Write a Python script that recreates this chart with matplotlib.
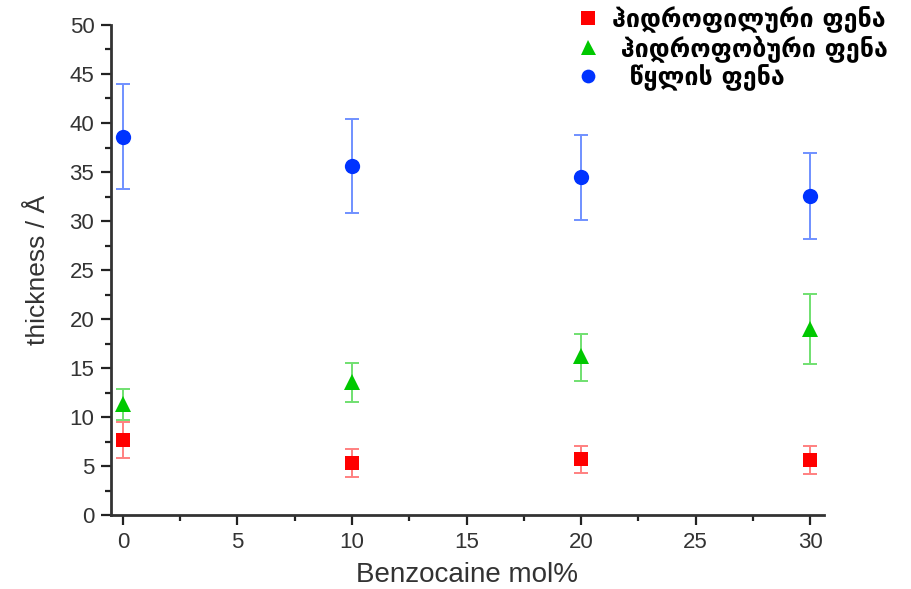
import matplotlib
matplotlib.use("Agg")
import matplotlib.pyplot as plt
from matplotlib.lines import Line2D
from matplotlib.ticker import MultipleLocator

x = [0, 10, 20, 30]

hydrophilic = [7.65, 5.3, 5.7, 5.6]
hydrophilic_lo = [1.85, 1.4, 1.4, 1.4]
hydrophilic_hi = [1.85, 1.4, 1.3, 1.4]

hydrophobic = [11.3, 13.6, 16.2, 19.0]
hydrophobic_lo = [1.6, 2.1, 2.5, 3.6]
hydrophobic_hi = [1.6, 1.9, 2.3, 3.6]

water = [38.6, 35.6, 34.5, 32.6]
water_lo = [5.3, 4.8, 4.4, 4.4]
water_hi = [5.4, 4.8, 4.3, 4.3]

labels = ["ჰიდროფილური ფენა", " ჰიდროფობური ფენა", "  წყლის ფენა"]
xlabel = "Benzocaine mol%"
ylabel = "thickness / Å"

plt.rcParams['font.family'] = ['Liberation Sans', 'DejaVu Sans']

fig = plt.figure(figsize=(9.11, 5.89), dpi=100)
ax = fig.add_axes([111/911, 74/589, (824-111)/911, (515-25)/589])

series = [
    (hydrophilic, hydrophilic_lo, hydrophilic_hi, 's', '#FF0000', '#FF8080', 10.5),
    (hydrophobic, hydrophobic_lo, hydrophobic_hi, '^', '#00C800', '#70E070', 12),
    (water, water_lo, water_hi, 'o', '#0033FF', '#7090FF', 11),
]
handles = []
for vals, lo, hi, m, c, ec, ms in series:
    ax.errorbar(x, vals, yerr=[lo, hi], fmt='none', ecolor=ec, elinewidth=1.4,
                capsize=5, capthick=1.4, zorder=2)
    ax.plot(x, vals, linestyle='none', marker=m, color=c, markersize=ms,
            markeredgewidth=0, zorder=3)
    handles.append(Line2D([], [], linestyle='none', marker=m, color=c,
                          markersize=ms * 0.9, markeredgewidth=0))

ax.set_xlim(-0.52, 30.6)
ax.set_ylim(0, 50)
ax.xaxis.set_major_locator(MultipleLocator(5))
ax.xaxis.set_minor_locator(MultipleLocator(2.5))
ax.yaxis.set_major_locator(MultipleLocator(5))
ax.yaxis.set_minor_locator(MultipleLocator(2.5))

for s in ['top', 'right']:
    ax.spines[s].set_visible(False)
for s in ['left', 'bottom']:
    ax.spines[s].set_linewidth(2)
    ax.spines[s].set_color('#333333')

ax.tick_params(which='major', direction='out', length=7, width=1.6,
               labelsize=16, color='#222222', labelcolor='#333333', pad=5)
ax.tick_params(which='minor', direction='out', length=4, width=1.6, color='#222222')

ax.set_xlabel(xlabel, fontsize=20, color='#333333', labelpad=7)
ax.set_ylabel(ylabel, fontsize=19, color='#333333', labelpad=14)

fig.legend(handles, labels, loc='upper left', bbox_to_anchor=(560/911, 1.015),
           frameon=False, handletextpad=0.5, labelspacing=0.08,
           handlelength=1.0, borderaxespad=0.2,
           prop={'family': ['DejaVu Sans'], 'size': 18, 'weight': 'bold'})

fig.savefig('out.png', dpi=100)
